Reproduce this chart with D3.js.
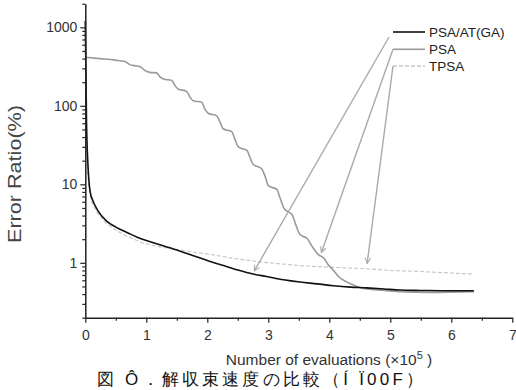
<!DOCTYPE html>
<html>
<head>
<meta charset="utf-8">
<script src="https://cdnjs.cloudflare.com/ajax/libs/d3/7.8.5/d3.min.js"></script>
<style>
body { margin: 0; background: #fff; }
text { font-family: "Liberation Sans", Arial, sans-serif; }
</style>
</head>
<body>
<div id="chart"></div>
<script>
// evaluations (x10^5) and error ratio (%)
var gaX = [0, 0.02, 0.04, 0.06, 0.08, 0.12, 0.2, 0.35, 0.5, 0.7, 0.85, 1.0, 1.25, 1.5, 1.75, 2.0, 2.25, 2.5, 2.75, 2.97, 3.25, 3.52, 3.8, 4.07, 4.35, 4.61, 4.9, 5.16, 5.5, 6.0, 6.37];
var gaY = [1200, 60, 20, 11, 8, 6.3, 4.7, 3.4, 2.85, 2.4, 2.12, 1.92, 1.68, 1.46, 1.25, 1.07, 0.93, 0.81, 0.72, 0.67, 0.61, 0.57, 0.54, 0.51, 0.49, 0.48, 0.465, 0.45, 0.445, 0.44, 0.44];

var psaX = [0, 0.24, 0.49, 0.65, 0.73, 0.81, 0.90, 0.98, 1.06, 1.17, 1.22, 1.28, 1.42, 1.47, 1.52, 1.66, 1.72, 1.77, 1.91, 1.96, 2.02, 2.15, 2.21, 2.26, 2.40, 2.45, 2.51, 2.65, 2.70, 2.75, 2.89, 2.95, 3.00, 3.14, 3.19, 3.26, 3.39, 3.45, 3.52, 3.64, 3.72, 3.82, 3.92, 3.98, 4.07, 4.15, 4.27, 4.38, 4.56, 4.75, 5.16, 5.65, 6.37];
var psaY = [415, 399, 382, 366, 335, 325, 315, 281, 267, 263, 236, 220, 210, 181, 164, 153, 128, 116, 111, 91, 80, 75, 62, 51, 47, 38, 30, 27, 22, 18, 15.8, 12.5, 9.6, 8.6, 6.8, 4.9, 4.1, 3.07, 2.29, 2.03, 1.61, 1.27, 1.13, 0.95, 0.80, 0.67, 0.58, 0.53, 0.47, 0.456, 0.43, 0.42, 0.43];

var tpsaX = [0, 0.02, 0.04, 0.06, 0.1, 0.2, 0.35, 0.5, 0.7, 0.95, 1.25, 1.5, 1.8, 2.0, 2.4, 2.8, 3.2, 3.52, 4.0, 4.61, 5.0, 5.43, 6.0, 6.37];
var tpsaY = [1200, 50, 15, 9, 6, 4.3, 3.14, 2.6, 2.15, 1.78, 1.58, 1.48, 1.36, 1.30, 1.15, 1.04, 0.97, 0.92, 0.88, 0.84, 0.80, 0.78, 0.74, 0.72];

var xTicks = [0, 1, 2, 3, 4, 5, 6, 7];
var yTicks = [1, 10, 100, 1000];
var names = ["PSA/AT(GA)", "PSA", "TPSA"];
// where each legend pointer lands on its curve
var tipX = [2.77, 3.87, 4.62];
var tipY = [0.79, 1.35, 0.98];

var width = 516, height = 390;

var x = d3.scaleLinear().domain([0, 7]).range([85.3, 512.3]);
var y = d3.scaleLog().domain([0.2, 2000]).range([317.7, 3.7]);

var svg = d3.select("#chart").append("svg")
    .attr("width", width)
    .attr("height", height);

svg.append("defs").append("marker")
    .attr("id", "arr")
    .attr("viewBox", "0 0 10 10")
    .attr("refX", 9).attr("refY", 5)
    .attr("markerWidth", 7).attr("markerHeight", 7)
    .attr("markerUnits", "userSpaceOnUse")
    .attr("orient", "auto")
    .append("path")
    .attr("d", "M1,1 L9,5 L1,9")
    .attr("fill", "none")
    .attr("stroke", "#aaa")
    .attr("stroke-width", 1.5);

function pts(xs, ys) { return xs.map(function (v, i) { return [v, ys[i]]; }); }

var line = d3.line()
    .x(function (d) { return x(d[0]); })
    .y(function (d) { return y(d[1]); });

// series
svg.append("path").datum(pts(tpsaX, tpsaY))
    .attr("d", line).attr("fill", "none")
    .attr("stroke", "#c8c8c8").attr("stroke-width", 1.2)
    .attr("stroke-dasharray", "4,2");
svg.append("path").datum(pts(psaX, psaY))
    .attr("d", line.curve(d3.curveMonotoneX)).attr("fill", "none")
    .attr("stroke", "#9a9a9a").attr("stroke-width", 1.6);
svg.append("path").datum(pts(gaX, gaY))
    .attr("d", line.curve(d3.curveMonotoneX)).attr("fill", "none")
    .attr("stroke", "#111").attr("stroke-width", 1.6);

// axes
var xAxis = svg.append("g")
    .attr("transform", "translate(0," + y(0.2) + ")")
    .call(d3.axisBottom(x).tickValues(xTicks).tickFormat(d3.format("d")).tickSize(5).tickSizeOuter(0));
svg.append("g")
    .attr("transform", "translate(0," + y(0.2) + ")")
    .call(d3.axisBottom(x).tickValues(d3.range(0.5, 7, 1)).tickFormat("").tickSize(3).tickSizeOuter(0))
    .select(".domain").remove();

var yAxis = svg.append("g")
    .attr("transform", "translate(" + x(0) + ",0)")
    .call(d3.axisLeft(y).tickValues(yTicks).tickFormat(d3.format("d")).tickSize(5).tickSizeOuter(0));
svg.append("g")
    .attr("transform", "translate(" + x(0) + ",0)")
    .call(d3.axisLeft(y).tickValues(y.ticks().filter(function (t) { return yTicks.indexOf(t) < 0; })).tickFormat("").tickSize(3).tickSizeOuter(0))
    .select(".domain").remove();

svg.selectAll(".domain").attr("stroke", "#222").attr("stroke-width", 1.5);
svg.selectAll(".tick line").attr("stroke", "#222").attr("stroke-width", 1.2);
svg.selectAll(".tick text").attr("font-size", 14).attr("fill", "#333")
    .attr("font-family", "Liberation Sans, Arial, sans-serif");
xAxis.selectAll(".tick text").attr("dy", "1.0em");
yAxis.selectAll(".tick text").attr("x", -8);

// axis titles
svg.append("text")
    .attr("transform", "translate(21,174) rotate(-90)")
    .attr("text-anchor", "middle")
    .attr("font-size", 17.5).attr("fill", "#444")
    .attr("textLength", 138).attr("lengthAdjust", "spacingAndGlyphs")
    .text("Error Ratio(%)");

var xl = svg.append("text")
    .attr("x", 329).attr("y", 365)
    .attr("text-anchor", "middle")
    .attr("font-size", 15.5).attr("fill", "#333");
xl.append("tspan").text("Number of evaluations (\u00d710");
xl.append("tspan").attr("dy", -6).attr("font-size", 11).text("5");
xl.append("tspan").attr("dy", 6).text(" )");

// legend
var legY = [32, 49.3, 66];
var legStroke = ["#111", "#9a9a9a", "#c8c8c8"];
var legDash = [null, null, "4,2"];
var leg = svg.append("g");
leg.selectAll("line.leg").data(names).enter().append("line")
    .attr("class", "leg")
    .attr("x1", 393).attr("x2", 425)
    .attr("y1", function (d, i) { return legY[i]; })
    .attr("y2", function (d, i) { return legY[i]; })
    .attr("stroke", function (d, i) { return legStroke[i]; })
    .attr("stroke-width", 1.6)
    .attr("stroke-dasharray", function (d, i) { return legDash[i]; });
leg.selectAll("text").data(names).enter().append("text")
    .attr("x", 429)
    .attr("y", function (d, i) { return legY[i] + 5; })
    .attr("font-size", 13.5).attr("fill", "#222")
    .text(function (d) { return d; });

// pointers from legend to curves
var startX = [389, 393, 393];
var startY = [37, 49.3, 66];
svg.selectAll("line.ptr").data(names).enter().append("line")
    .attr("class", "ptr")
    .attr("x1", function (d, i) { return startX[i]; })
    .attr("y1", function (d, i) { return startY[i]; })
    .attr("x2", function (d, i) { return x(tipX[i]); })
    .attr("y2", function (d, i) { return y(tipY[i]); })
    .attr("stroke", "#aaa").attr("stroke-width", 1.4)
    .attr("marker-end", "url(#arr)");

// caption
svg.append("text")
    .attr("x", 97).attr("y", 385)
    .attr("font-size", 17).attr("fill", "#111")
    .attr("font-family", "Noto Sans CJK JP, sans-serif")
    .attr("textLength", 326).attr("lengthAdjust", "spacing")
    .text("図 Ô．解収束速度の比較（Í Ï00F）");
</script>
</body>
</html>
